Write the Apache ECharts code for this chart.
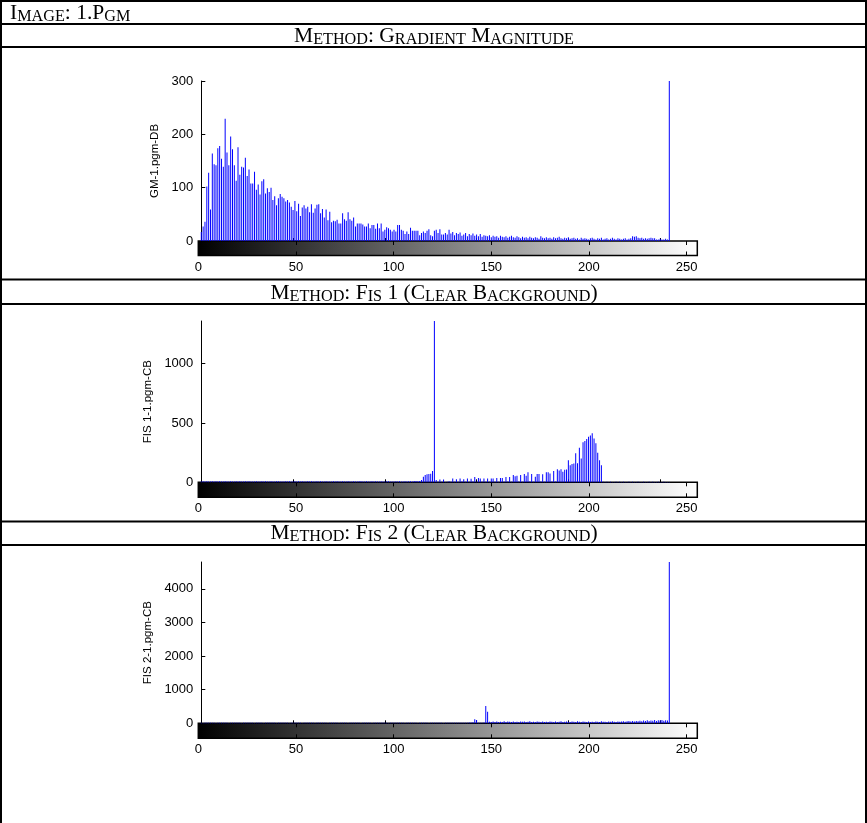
<!DOCTYPE html>
<html><head><meta charset="utf-8">
<script src="https://cdn.jsdelivr.net/npm/echarts@6/dist/echarts.min.js"></script>
<style>html,body{margin:0;padding:0;background:#fff}#c{width:867px;height:823px}</style>
</head><body><div id="c"></div>
<script>
// ---------------- data ----------------
const headerTexts = ['Image: 1.Pgm', 'Method: Gradient Magnitude', 'Method: Fis 1 (Clear Background)', 'Method: Fis 2 (Clear Background)'];
const yNames = ['GM-1.pgm-DB', 'FIS 1-1.pgm-CB', 'FIS 2-1.pgm-CB'];
const grayTicks = [0, 50, 100, 150, 200, 250];
const binTicks = [0, 50, 100, 150, 200, 250];
const gmTicks = [0, 100, 200, 300];
const fis1Ticks = [0, 500, 1000];
const fis2Ticks = [0, 1000, 2000, 3000, 4000];
const yMax = [300, 1360, 4800];

const gmCounts = [
17,27,36,102,128,59,164,144,142,174,
178,154,139,229,166,142,196,172,142,113,
176,124,139,138,156,122,134,108,108,130,
96,106,87,112,116,89,99,92,100,77,
84,67,80,88,83,80,74,77,72,64,
58,75,56,70,47,63,67,61,64,54,
69,53,61,68,69,52,60,44,59,39,
55,35,38,37,40,33,33,52,41,38,
54,41,38,44,27,33,33,33,31,27,
27,33,24,30,30,23,33,24,33,18,
21,26,24,21,18,21,18,30,30,21,
19,13,18,13,25,19,19,19,19,11,
15,18,15,19,22,11,9,19,21,15,
22,12,12,15,12,21,14,17,11,15,
13,16,10,12,15,9,13,11,14,10,
12,9,13,8,11,10,9,11,7,10,
8,9,6,10,8,7,9,6,8,10,
7,6,9,7,5,8,6,7,5,8,
6,5,7,6,4,9,6,5,7,5,
6,4,7,5,6,8,5,4,6,5,
7,4,5,6,4,5,3,6,4,5,
4,3,5,6,4,3,5,4,6,3,
4,5,3,4,6,4,3,5,4,3,
4,5,3,4,5,9,8,9,6,5,
6,4,5,4,5,6,5,5,3,3,
4,3,3,4,3,300
];

const fis1Counts = [
6,8,7,9,6,7,8,6,9,7,
8,6,7,9,7,6,8,7,6,9,
7,8,6,7,9,6,8,7,7,6,
9,7,6,8,7,9,6,7,8,6,
7,9,8,6,7,6,9,7,8,7,
6,8,7,9,6,8,7,6,9,7,
8,7,6,9,7,8,6,7,9,6,
7,6,8,7,9,6,7,8,6,7,
9,7,6,8,7,6,9,8,7,6,
8,6,7,9,7,8,6,7,9,6,
7,8,9,6,7,6,8,7,9,7,
6,8,7,9,8,6,10,12,9,12,
20,47,61,67,70,72,95,1360,20,4,
24,5,24,3,5,8,4,33,5,25,
4,33,6,25,4,33,5,29,6,44,
5,37,33,4,33,5,33,4,33,33,
5,37,4,37,37,5,44,6,44,5,
61,50,56,6,61,5,70,56,84,6,
70,5,47,70,70,6,67,5,84,84,
75,6,95,7,109,100,110,88,105,108,
186,143,154,158,244,160,292,200,337,348,
365,385,395,414,370,330,250,186,143,4,
3,4,3,4,3,3,4,3,4,3,
4,3,3,4,3,4,3,3,4,3,
3,4,3,3,4,3,4,3,3,4,
3,3,4,3,3,3
];

const fis2Counts = [
15,12,18,14,16,13,17,15,12,16,
14,17,13,15,18,12,16,14,15,13,
17,14,12,16,15,18,13,14,16,12,
15,13,17,14,12,16,15,18,14,13,
16,12,15,17,13,14,18,15,12,16,
14,16,13,15,17,12,14,16,15,13,
18,14,12,15,16,13,17,14,15,12,
16,15,13,18,14,12,15,17,13,16,
12,15,17,14,13,16,15,12,18,14,
15,13,16,12,17,14,15,13,16,18,
13,15,12,16,14,17,13,15,18,14,
16,12,15,14,17,13,16,15,12,18,
14,16,13,15,12,17,15,14,16,13,
15,18,12,16,14,13,17,15,14,16,
13,15,17,14,16,20,25,22,30,119,
100,15,18,20,25,516,347,45,38,52,
40,55,36,48,42,60,38,50,44,35,
52,41,47,38,56,43,50,37,45,58,
40,48,35,53,46,39,57,42,49,36,
51,44,38,55,41,47,60,39,46,52,
43,37,54,48,40,58,45,36,50,44,
39,56,42,49,37,53,46,41,59,44,
48,38,55,43,62,47,40,57,45,51,
64,49,58,72,55,66,50,70,61,75,
58,80,68,90,72,85,76,95,70,88,
82,100,78,92,85,4800
];

const allCounts = [gmCounts, fis1Counts, fis2Counts];
const allTicks = [gmTicks, fis1Ticks, fis2Ticks];

// ---------------- layout (positions/styles only) ----------------
const layout = [
  {top: 81,  h: 160,   cbH: 14.5, nameGap: 35.5, interval: 100},
  {top: 321, h: 161.3, cbH: 15,   nameGap: 44,   interval: 500},
  {top: 562, h: 161.3, cbH: 15,   nameGap: 44,   interval: 1000}
];
const AX_LEFT = 198.3, CB_W = 499, BIN_LEFT = 201.3, BIN_W = 496, BIN_PX = 1.8353;
const SANS = 'Liberation Sans', SERIF = 'Liberation Serif';
const plain = v => String(v);

const grids = [], xAxes = [], yAxes = [], series = [];
layout.forEach((L, i) => {
  const gH = grids.length;
  grids.push({left: BIN_LEFT, top: L.top, width: BIN_W, height: L.h});
  const gC = grids.length;
  grids.push({left: AX_LEFT, top: L.top + L.h, width: CB_W, height: L.cbH, show: true,
    borderColor: '#000', borderWidth: 1.5,
    backgroundColor: new echarts.graphic.LinearGradient(0, 0, 1, 0, [{offset: 0, color: '#000'}, {offset: 1, color: '#fff'}])});

  const xH = xAxes.length;
  xAxes.push({gridIndex: gH, type: 'value', min: 0, max: BIN_W / BIN_PX, interval: 50,
    axisLine: {show: false}, axisLabel: {show: false}, splitLine: {show: false},
    axisTick: {show: true, inside: true, length: 3, lineStyle: {color: '#000', width: 1}, customValues: binTicks}});
  xAxes.push({gridIndex: gC, type: 'value', min: 0, max: 255.5, interval: 50, position: 'bottom',
    axisLine: {show: false}, splitLine: {show: false},
    axisTick: {show: true, inside: true, length: 4, lineStyle: {color: '#000', width: 1}, customValues: grayTicks},
    axisLabel: {show: true, color: '#000', fontSize: 13, fontFamily: SANS, margin: 5, customValues: grayTicks, formatter: plain}});
  xAxes.push({gridIndex: gC, type: 'value', min: 0, max: 255.5, interval: 50, position: 'top',
    axisLine: {show: false}, splitLine: {show: false}, axisLabel: {show: false},
    axisTick: {show: true, inside: true, length: 4, lineStyle: {color: '#000', width: 1}, customValues: grayTicks}});

  const yH = yAxes.length;
  const ticks = allTicks[i];
  yAxes.push({gridIndex: gH, type: 'value', min: 0, max: yMax[i], interval: L.interval, offset: BIN_LEFT - AX_LEFT,
    axisLine: {show: true, lineStyle: {color: '#000', width: 1}},
    axisTick: {show: true, inside: true, length: 4, lineStyle: {color: '#000'}, customValues: ticks},
    axisLabel: {color: '#000', fontSize: 13, fontFamily: SANS, margin: 5, customValues: ticks, formatter: plain},
    splitLine: {show: false},
    name: yNames[i], nameLocation: 'middle', nameRotate: 90, nameGap: L.nameGap,
    nameTextStyle: {color: '#000', fontSize: 11.5, fontFamily: SANS}});
  yAxes.push({gridIndex: gC, type: 'value', min: 0, max: 1, show: false});

  series.push({type: 'bar', xAxisIndex: xH, yAxisIndex: yH, barWidth: 1, silent: true,
    itemStyle: {color: '#0000ff'},
    data: allCounts[i].map((v, k) => [k, v])});
});

// table frame and headers
function smallCaps(str) {
  let out = '', cur = '', curType = null;
  const flush = () => { if (cur) out += '{' + curType + '|' + cur + '}'; cur = ''; };
  for (const ch of str) {
    const t = (ch >= 'a' && ch <= 'z') ? 's' : 'b';
    if (t !== curType) { flush(); curType = t; }
    cur += t === 's' ? ch.toUpperCase() : ch;
  }
  flush();
  return out;
}
const rich = {
  b: {fontSize: 21.5, fontFamily: SERIF, fill: '#000', verticalAlign: 'bottom'},
  s: {fontSize: 16.2, fontFamily: SERIF, fill: '#000', verticalAlign: 'bottom'}
};
const hLines = [1, 24, 47, 279.5, 304, 521.5, 545];
const vLines = [1, 866];
const headerPos = [{x: 10, y: 13.3, align: 'left'}, {x: 434, y: 36.3, align: 'center'},
                   {x: 434, y: 293.3, align: 'center'}, {x: 434, y: 533.8, align: 'center'}];
const graphics = [];
hLines.forEach(y => graphics.push({type: 'line', shape: {x1: 0, y1: y, x2: 867, y2: y}, style: {stroke: '#000', lineWidth: 2}}));
vLines.forEach(x => graphics.push({type: 'line', shape: {x1: x, y1: 0, x2: x, y2: 823}, style: {stroke: '#000', lineWidth: 2}}));
headerTexts.forEach((t, i) => graphics.push({type: 'text', x: headerPos[i].x, y: headerPos[i].y,
  style: {text: smallCaps(t), rich: rich, align: headerPos[i].align, verticalAlign: 'middle', fill: '#000', fontFamily: SERIF, fontSize: 21.5}}));

const chart = echarts.init(document.getElementById('c'), null, {renderer: 'canvas'});
chart.setOption({
  animation: false,
  backgroundColor: '#fff',
  grid: grids, xAxis: xAxes, yAxis: yAxes, series: series,
  graphic: graphics
});
</script></body></html>
